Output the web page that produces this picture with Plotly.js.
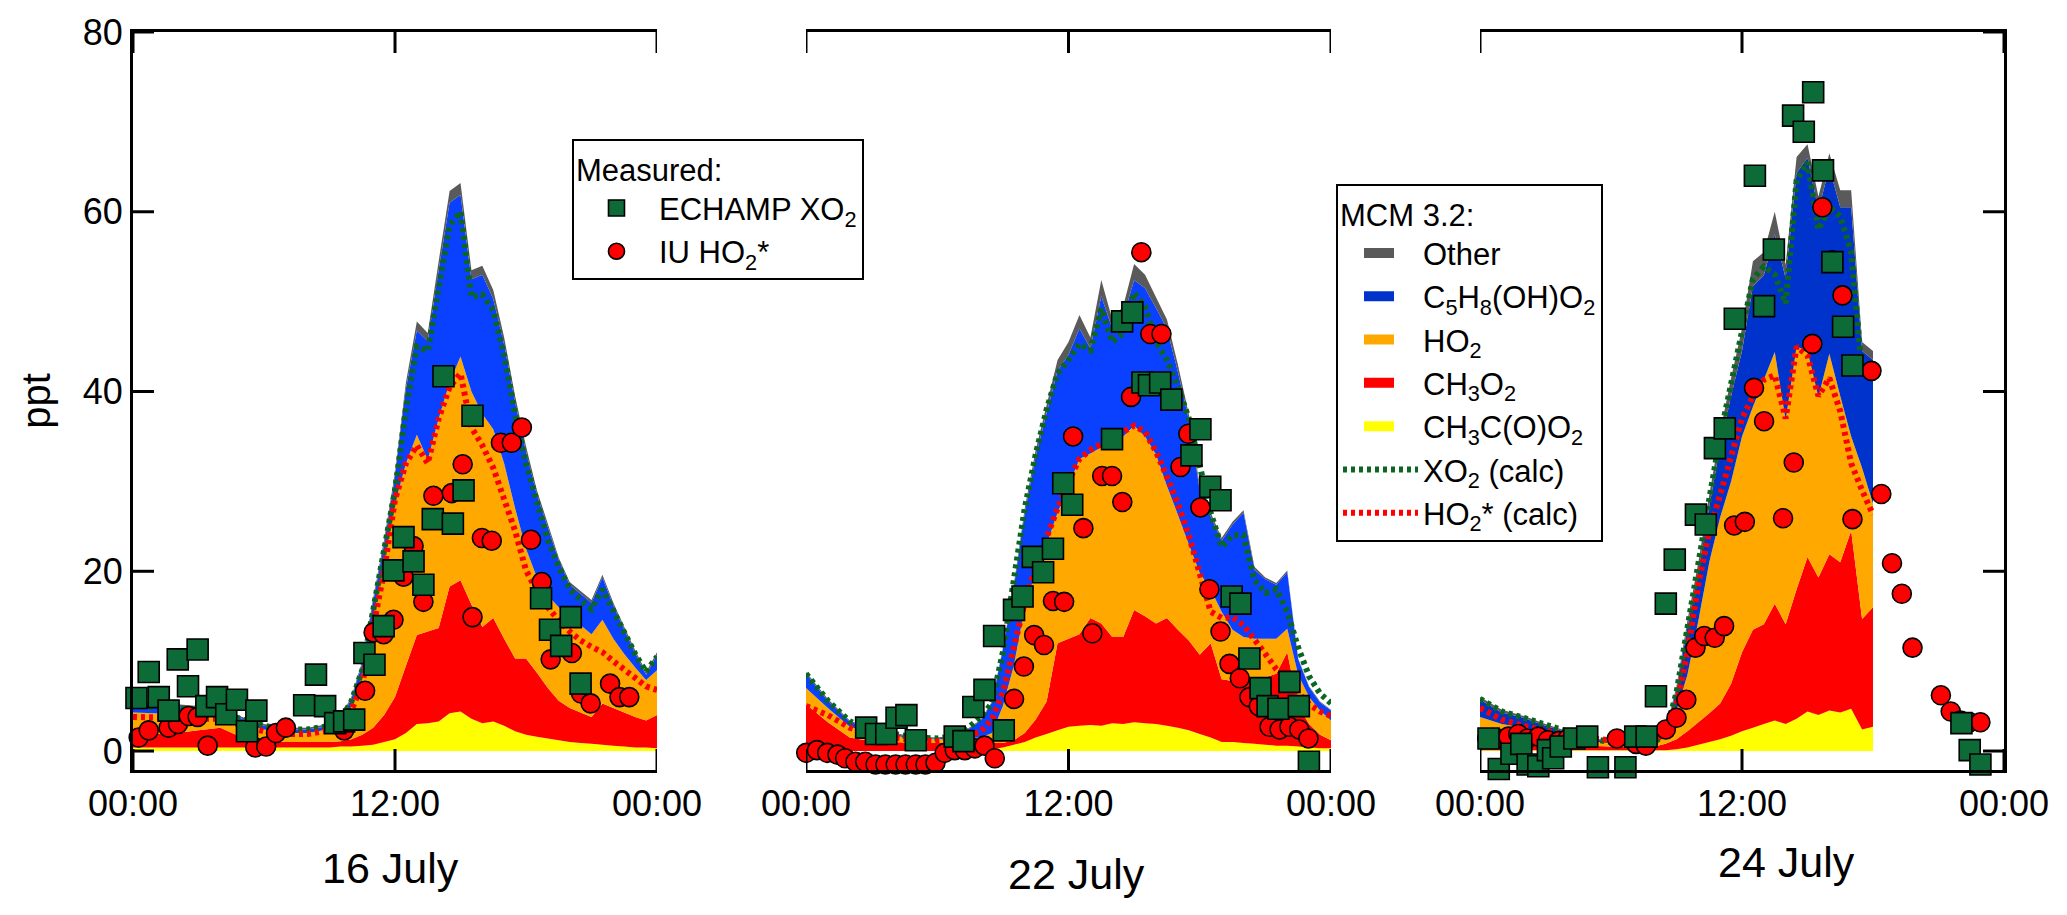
<!DOCTYPE html>
<html>
<head>
<meta charset="utf-8">
<script src="https://cdn.plot.ly/plotly-3.0.1.min.js"></script>
<style>
  html, body { margin: 0; padding: 0; background: #fff; }
  #chart { width: 2067px; height: 915px; }
</style>
</head>
<body>
<div id="chart"></div>
<script>
// MCM 3.2 model output, hours of day (half-hourly in daytime)
const modelHours = [0,1,2,3,4,5,6,7,8,8.5,9,9.5,10,10.5,11,11.5,12,12.5,13,13.5,14,14.5,15,15.5,16,16.5,17,17.5,18,18.5,19,19.5,20,20.5,21,21.5,22,22.5,23,23.5,24]
// on 24 July the model run stops at 18:00
const modelHours24 = [0,1,2,3,4,5,6,7,8,8.5,9,9.5,10,10.5,11,11.5,12,12.5,13,13.5,14,14.5,15,15.5,16,16.5,17,17.5,18]

// --- 16 July, ppt ---
const jul16_ch3co3 = [0.4,0.4,0.4,0.4,0.4,0.4,0.4,0.4,0.4,0.4, 0.4,0.5,0.5,0.6,0.7,1.0,1.3,2.0,3.0,3.1, 3.3,4.2,4.4,3.6,3.1,3.3,2.8,2.2,1.8,1.6, 1.4,1.2,1.0,0.9,0.8,0.7,0.6,0.5,0.4,0.4, 0.3]
const jul16_ch3o2 = [1.4,1.5,1.6,1.9,2.2,1.1,0.8,0.6,0.6,0.6, 0.6,0.6,0.8,1.2,1.9,3.0,4.7,7.5,9.9,10.2, 10.4,14.1,14.6,12.7,10.7,11.5,9.7,8.1,8.5,7.1, 5.6,4.4,3.8,3.4,3.0,4.6,4.2,3.8,3.4,3.0, 3.7]
const jul16_ho2 = [2.5,2.3,2.0,1.7,1.4,1.5,1.2,1.0,1.0,1.2, 1.5,2.1,3.7,6.7,12.4,17.0,21.5,22.5,22.3,19.1, 23.3,22.7,24.9,23.7,23.7,21.0,19.5,16.7,12.2,10.6, 10.3,10.4,10.2,9.7,9.2,9.3,7.7,6.5,5.5,4.5, 5.0]
const jul16_isopo2 = [0.9,0.8,0.9,0.8,0.6,0.6,0.4,0.4,0.4,0.4, 0.3,0.4,0.8,1.2,1.6,2.0,3.0,8.3,11.6,13.2, 16.5,20.0,18.0,12.5,15.5,14.5,13.2,11.8,10.8,9.2, 7.6,5.2,3.5,3.5,3.5,4.7,3.7,2.7,1.6,0.6, 1.7]
const jul16_other = [0.3,0.3,0.3,0.2,0.2,0.2,0.2,0.2,0.2,0.2, 0.2,0.2,0.2,0.3,0.4,0.5,0.5,0.7,1.0,0.9, 1.0,1.3,1.3,1.0,1.0,1.0,0.8,0.7,0.6,0.5, 0.4,0.3,0.3,0.3,0.3,0.3,0.3,0.3,0.3,0.3, 0.3]
const jul16_xo2calc = [5.0,4.9,4.8,4.6,4.4,3.5,2.8,2.4,2.4,2.6, 2.8,3.5,5.5,9.0,15.5,22.0,29.0,38.0,45.0,44.5, 52.0,58.5,60.0,50.5,50.8,49.0,44.0,37.5,32.0,27.5, 23.5,20.5,18.0,16.8,15.8,18.0,15.5,13.0,10.8,8.8, 10.5]
const jul16_ho2calc = [3.8,3.8,3.7,3.6,3.6,2.8,2.2,1.9,1.9,2.1, 2.3,3.0,4.5,7.5,13.5,20.0,28.0,32.0,34.0,32.0, 37.0,40.5,42.0,36.0,34.0,31.5,28.0,24.5,20.1,17.8, 16.0,14.5,13.3,12.3,11.6,11.0,10.0,9.0,8.0,7.2, 6.8]
const jul16_echampHours = [0.16,0.72,1.18,1.63,2.05,2.52,2.96,3.36,3.85,4.27,4.76,5.22,5.65,7.84,8.38,8.8,9.26,9.67,10.13,10.6,11.06,11.48,11.93,12.39,12.85,13.3,13.73,14.22,14.65,15.14,15.55,18.69,19.1,19.61,20.05,20.5]
const jul16_echampXO2 = [5.9,8.8,6.0,4.5,10.2,7.2,11.3,5.0,6.0,4.1,5.7,2.2,4.5,5.1,8.5,5.0,3.1,3.3,3.5,10.9,9.6,13.9,20.1,23.8,21.1,18.5,25.8,41.7,25.3,29.0,37.3,17.0,13.5,11.7,14.9,7.5]
const jul16_iuHours = [0.26,0.72,1.63,2.06,2.55,2.96,3.42,5.6,6.1,6.55,7.0,9.67,10.63,11.02,11.48,11.93,12.39,12.85,13.3,13.76,14.6,15.1,15.55,15.98,16.43,16.85,17.35,17.81,18.23,18.72,19.13,20.1,20.52,20.96,21.85,22.28,22.73]
const jul16_iuHO2 = [1.5,2.3,2.6,3.0,3.9,3.8,0.6,0.4,0.5,2.0,2.6,2.3,6.7,13.2,13.0,14.6,19.4,22.8,16.6,28.4,28.7,31.9,14.9,23.7,23.4,34.3,34.3,36.0,23.5,18.8,10.2,10.9,6.4,5.3,7.5,6.0,6.0]

// --- 22 July, ppt ---
const jul22_ch3co3 = [0,0,0,0,0,0,0,0,0.1,0.2, 0.4,0.7,1.0,1.5,1.9,2.3,2.7,2.8,2.9,2.8, 3.1,3.0,3.2,3.1,3.0,2.8,2.6,2.3,1.9,1.5, 1.0,1.0,0.9,0.8,0.7,0.6,0.6,0.5,0.4,0.3, 0.3]
const jul22_ch3o2 = [5.2,3.2,1.5,1.1,1.0,0.9,0.9,0.9,0.8,0.7, 0.5,0.5,1.0,2.0,3.6,9.7,9.8,10.2,11.9,11.4, 9.6,9.7,12.5,11.9,11.2,12.0,10.9,10.0,8.8,10.5, 7.0,6.8,6.9,7.1,7.5,8.0,10.4,4.5,2.6,1.5, 0.9]
const jul22_ho2 = [1.8,1.6,1.2,0.9,0.7,0.5,0.4,0.5,0.6,1.1, 4.1,8.3,14.0,16.5,17.5,14.5,17.0,19.5,18.3,19.6, 21.5,22.3,20.5,20.0,18.8,14.7,12.8,10.7,9.1,6.0, 7.5,5.7,4.9,4.6,4.3,3.9,2.6,3.5,3.0,2.7, 2.2]
const jul22_isopo2 = [1.6,0.8,0.6,0.3,0.2,0.1,0.1,0.3,1.9,3.4, 6.3,8.7,10.5,12.8,14.6,15.8,14.6,14.5,11.7,16.8, 12.8,13.3,16.2,16.5,16.3,17.5,15.9,13.9,9.2,8.1, 7.9,11.7,13.8,7.7,6.6,6.0,6.3,1.7,1.1,0.9, 1.1]
const jul22_other = [0.2,0.2,0.1,0.1,0.1,0.1,0.1,0.1,0.1,0.1, 0.2,0.3,0.5,0.7,0.9,1.2,1.4,1.5,1.2,1.8, 1.0,1.2,1.8,1.5,1.2,1.0,0.8,0.6,0.5,0.4, 0.3,0.3,0.3,0.3,0.2,0.2,0.2,0.1,0.1,0.1, 0.1]
const jul22_xo2calc = [8.6,5.6,3.3,2.3,1.9,1.5,1.4,1.7,3.8,5.3, 11.0,19.0,27.0,33.0,38.0,42.0,43.5,45.3,44.6,49.2, 45.5,46.5,51.0,49.5,45.5,43.5,40.5,37.0,32.0,26.5, 22.7,24.0,24.0,19.0,17.6,18.0,15.5,11.5,8.3,6.4, 5.3]
const jul22_ho2calc = [5.0,4.0,2.6,1.8,1.5,1.2,1.1,1.3,2.2,3.5, 6.5,11.5,16.5,20.5,24.0,27.0,30.0,32.5,33.5,34.2, 34.8,35.5,36.2,35.5,33.3,30.5,27.5,24.0,19.8,15.5, 14.8,14.9,14.0,12.5,10.8,9.1,7.8,6.3,5.2,4.4, 3.9]
const jul22_echampHours = [2.75,3.2,3.67,4.14,4.59,5.02,6.8,7.2,7.65,8.16,8.6,9.04,9.51,9.9,10.37,10.84,11.29,11.76,12.17,13.99,14.45,14.92,15.38,15.68,16.19,16.7,17.62,18.03,18.48,18.95,19.46,19.86,20.27,20.78,21.1,21.6,22.1,22.53,22.99]
const jul22_echampXO2 = [2.6,1.9,1.9,3.7,4.0,1.2,1.6,1.1,4.9,6.8,12.8,2.3,15.7,17.2,21.6,19.9,22.5,29.8,27.4,34.7,47.8,48.8,41.0,40.7,41.0,39.1,32.9,35.8,29.4,27.9,17.2,16.4,10.3,7.0,5.0,4.7,7.7,5.0,-1.2]
const jul22_iuHours = [0.01,0.5,0.97,1.44,1.79,2.26,2.71,3.18,3.63,4.1,4.55,5.02,5.46,5.92,6.34,6.8,7.26,7.72,8.16,8.63,9.51,9.96,10.43,10.88,11.29,11.8,12.21,12.68,13.09,13.54,13.99,14.46,14.86,15.33,15.74,16.25,17.12,17.48,18.03,18.44,18.95,19.36,19.83,20.27,20.7,21.19,21.65,22.1,22.55,22.97]
const jul22_iuHO2 = [-0.2,0.1,-0.2,-0.4,-0.8,-1.2,-1.2,-1.5,-1.5,-1.5,-1.5,-1.5,-1.5,-1.3,-0.2,0.1,0.1,0.3,0.6,-0.8,5.8,9.4,12.9,11.8,16.7,16.6,35.0,24.8,13.1,30.6,30.6,27.7,39.4,55.5,46.4,46.4,31.6,35.3,27.1,18.0,13.3,9.7,8.1,6.0,5.0,2.7,2.4,2.7,2.4,1.4]

// --- 24 July, ppt ---
const jul24_ch3co3 = [0.1,0.1,0.1,0.1,0.1,0.1,0.1,0.1,0.1,0.1, 0.2,0.4,0.7,1.0,1.3,1.7,2.2,2.6,3.0,3.4, 3.0,3.6,4.4,4.0,4.5,4.3,4.7,2.4,2.7]
const jul24_ch3o2 = [1.7,1.4,1.1,0.9,0.7,0.5,0.4,0.3,0.4,0.7, 1.1,1.8,2.5,3.2,4.0,5.8,8.8,10.9,11.1,13.0, 11.1,14.4,17.2,15.3,17.4,16.7,19.8,12.3,13.3]
const jul24_ho2 = [2.0,1.5,1.4,1.1,0.8,0.5,0.4,0.2,0.4,0.9, 3.2,6.3,11.3,16.8,20.7,22.5,24.0,24.8,27.2,28.0, 22.7,27.0,22.9,20.1,22.3,18.5,10.5,16.8,11.5]
const jul24_isopo2 = [1.9,1.3,1.1,0.7,0.5,0.3,0.1,0.1,0.2,0.4, 2.3,5.3,5.5,6.2,7.9,9.5,9.5,13.4,11.6,13.1, 15.8,19.3,21.5,20.8,20.7,21.0,25.5,13.0,16.0]
const jul24_other = [0.3,0.3,0.2,0.2,0.1,0.1,0.1,0.1,0.1,0.2, 0.4,0.7,1.0,1.3,1.6,2.0,2.5,2.8,2.6,2.5, 1.5,1.8,1.5,1.5,1.6,1.9,1.9,1.0,1.0]
const jul24_xo2calc = [5.8,4.4,3.7,2.9,2.2,1.4,1.0,0.7,1.0,2.0, 6.5,14.0,21.0,28.0,35.0,41.0,47.0,52.5,53.9,53.0, 49.8,63.5,65.5,58.0,60.5,59.5,55.5,42.0,null]
const jul24_ho2calc = [4.8,3.5,2.8,2.2,1.7,1.4,1.2,1.0,1.2,2.0, 5.0,11.0,18.5,24.5,28.5,33.0,37.0,39.5,41.3,41.8, 37.0,45.0,44.0,39.5,41.5,37.8,32.0,29.0,26.3]
const jul24_echampHours = [0.39,0.86,1.44,1.89,2.18,2.67,3.11,3.35,3.7,4.32,4.91,5.4,6.66,7.11,7.63,8.06,8.51,8.92,9.89,10.34,10.76,11.21,11.67,12.59,13.01,13.46,14.34,14.83,15.26,15.71,16.14,16.63,17.06,22.05,22.43,22.92]
const jul24_echampXO2 = [1.4,-2.0,-0.3,0.8,-1.5,-1.7,0.1,-0.8,0.5,1.4,1.6,-1.8,-1.8,1.6,1.6,6.1,16.4,21.3,26.3,25.2,33.7,35.9,48.1,64.0,49.5,55.8,70.7,68.9,73.3,64.6,54.4,47.2,42.9,3.1,0.1,-1.5]
const jul24_iuHours = [0.33,0.82,1.3,1.75,2.18,2.67,3.11,3.6,4.03,6.27,7.15,7.6,8.51,9.0,9.45,9.87,10.27,10.75,11.18,11.64,12.13,12.55,13.01,13.88,14.37,15.22,15.68,16.14,16.6,17.06,17.93,18.38,18.87,19.32,19.81,21.11,21.56,22.01,22.43,22.92]
const jul24_iuHO2 = [1.4,1.4,1.6,1.9,1.4,1.6,1.2,1.1,1.4,1.4,0.8,0.6,2.4,3.7,5.7,11.5,12.8,12.6,13.9,25.1,25.5,40.4,36.7,25.9,32.1,45.3,60.5,54.6,50.7,25.8,42.3,28.6,20.9,17.5,11.5,6.2,4.4,3.4,3.2,3.2]

const dayLabels = ['16 July', '22 July', '24 July']
const tickHours = [0, 12, 24]
const tickLabels = ['00:00', '12:00', '00:00']
const pptTicks = [0, 20, 40, 60, 80]

const FONT = 'Liberation Sans, Arial, Helvetica, sans-serif'

const days = [
  { hours: modelHours, ch3co3: jul16_ch3co3, ch3o2: jul16_ch3o2, ho2: jul16_ho2, isopo2: jul16_isopo2, other: jul16_other,
    xo2calc: jul16_xo2calc, ho2calc: jul16_ho2calc,
    echampHours: jul16_echampHours, echamp: jul16_echampXO2, iuHours: jul16_iuHours, iu: jul16_iuHO2, blue: '#0a40ff' },
  { hours: modelHours, ch3co3: jul22_ch3co3, ch3o2: jul22_ch3o2, ho2: jul22_ho2, isopo2: jul22_isopo2, other: jul22_other,
    xo2calc: jul22_xo2calc, ho2calc: jul22_ho2calc,
    echampHours: jul22_echampHours, echamp: jul22_echampXO2, iuHours: jul22_iuHours, iu: jul22_iuHO2, blue: '#0a40ff' },
  { hours: modelHours24, ch3co3: jul24_ch3co3, ch3o2: jul24_ch3o2, ho2: jul24_ho2, isopo2: jul24_isopo2, other: jul24_other,
    xo2calc: jul24_xo2calc, ho2calc: jul24_ho2calc,
    echampHours: jul24_echampHours, echamp: jul24_echampXO2, iuHours: jul24_iuHours, iu: jul24_iuHO2, blue: '#0033cc' }
]

// quick sanity check on hand-typed arrays
days.forEach((d, i) => {
  ['ch3co3', 'ch3o2', 'ho2', 'isopo2', 'other', 'xo2calc', 'ho2calc'].forEach(k => {
    if (d[k].length !== d.hours.length) throw new Error('day ' + i + ' ' + k + ' length ' + d[k].length)
  })
  if (d.echamp.length !== d.echampHours.length) throw new Error('day ' + i + ' echamp length')
  if (d.iu.length !== d.iuHours.length) throw new Error('day ' + i + ' iu length')
})

// stack order bottom -> top
const layers = [
  { key: 'ch3co3', name: 'CH<sub>3</sub>C(O)O<sub>2</sub>', color: '#ffff00', rank: 5 },
  { key: 'ch3o2', name: 'CH<sub>3</sub>O<sub>2</sub>', color: '#ff0000', rank: 4 },
  { key: 'ho2', name: 'HO<sub>2</sub>', color: '#ffa800', rank: 3 },
  { key: 'isopo2', name: 'C<sub>5</sub>H<sub>8</sub>(OH)O<sub>2</sub>', color: null, rank: 2 },
  { key: 'other', name: 'Other', color: '#5a5a5a', rank: 1 }
]

const dotted = { width: 6, dash: '4px,4px' }

const traces = []
days.forEach((d, i) => {
  const xa = i === 0 ? 'x' : 'x' + (i + 1)
  const ya = i === 0 ? 'y' : 'y' + (i + 1)
  const inModelLegend = i === 2
  const inMeasLegend = i === 0

  layers.forEach(l => {
    traces.push({
      type: 'scatter', x: d.hours, y: d[l.key], xaxis: xa, yaxis: ya,
      mode: 'none', stackgroup: 'mcm' + i, fillcolor: l.color || d.blue,
      name: l.name, showlegend: false, hoverinfo: 'skip'
    })
  })

  traces.push({
    type: 'scatter', x: d.hours, y: d.xo2calc, xaxis: xa, yaxis: ya, mode: 'lines',
    line: { color: '#0b6623', width: dotted.width, dash: dotted.dash },
    name: 'XO<sub>2</sub> (calc)', legend: 'legend2', legendrank: 6, showlegend: inModelLegend,
    hoverinfo: 'skip'
  })
  traces.push({
    type: 'scatter', x: d.hours, y: d.ho2calc, xaxis: xa, yaxis: ya, mode: 'lines',
    line: { color: '#ff0000', width: dotted.width, dash: dotted.dash },
    name: 'HO<sub>2</sub>* (calc)', legend: 'legend2', legendrank: 7, showlegend: inModelLegend,
    hoverinfo: 'skip'
  })

  traces.push({
    type: 'scatter', x: d.iuHours, y: d.iu, xaxis: xa, yaxis: ya, mode: 'markers', cliponaxis: false,
    marker: { symbol: 'circle', size: 19, color: '#ff0000', line: { color: '#000', width: 1.6 } },
    name: 'IU HO<sub>2</sub>*', legend: 'legend', legendrank: 2, showlegend: inMeasLegend,
    hoverinfo: 'skip'
  })
  traces.push({
    type: 'scatter', x: d.echampHours, y: d.echamp, xaxis: xa, yaxis: ya, mode: 'markers', cliponaxis: false,
    marker: { symbol: 'square', size: 21, color: '#0c6b37', line: { color: '#000', width: 1.6 } },
    name: 'ECHAMP XO<sub>2</sub>', legend: 'legend', legendrank: 1, showlegend: inMeasLegend,
    hoverinfo: 'skip'
  })
})

// legend swatches for the stacked model fills (no data, legend only)
layers.forEach(l => {
  traces.push({
    type: 'scatter', x: [null], y: [null], xaxis: 'x3', yaxis: 'y3', mode: 'lines',
    line: { color: l.color || days[2].blue, width: 18, dash: '0px,21px,30px,400px' },
    name: l.name, legend: 'legend2', legendrank: l.rank, showlegend: true, hoverinfo: 'skip'
  })
})

const tickFont = { family: FONT, size: 36, color: '#000' }
const yRange = [-2.11, 80]
const tickLen = 21

// inward tick marks, drawn as short lines anchored on the axis values
const tickStyle = { type: 'line', layer: 'above', line: { color: '#000', width: 3 } }
const shapes = []
;['x', 'x2', 'x3'].forEach((xa, i) => {
  const ya = i === 0 ? 'y' : 'y' + (i + 1)
  tickHours.forEach(h => {
    shapes.push(Object.assign({}, tickStyle, { xref: xa, yref: ya, x0: h, x1: h, ysizemode: 'pixel', yanchor: yRange[0], y0: 0, y1: tickLen }))
    shapes.push(Object.assign({}, tickStyle, { xref: xa, yref: ya, x0: h, x1: h, ysizemode: 'pixel', yanchor: yRange[1], y0: 0, y1: -tickLen }))
  })
})
pptTicks.forEach(v => {
  shapes.push(Object.assign({}, tickStyle, { xref: 'x', yref: 'y', y0: v, y1: v, xsizemode: 'pixel', xanchor: 0, x0: 0, x1: tickLen }))
  shapes.push(Object.assign({}, tickStyle, { xref: 'x3', yref: 'y3', y0: v, y1: v, xsizemode: 'pixel', xanchor: 24, x0: 0, x1: -tickLen }))
})

function timeAxis(domain, anchor) {
  return {
    domain: domain, anchor: anchor, range: [0, 24],
    tickmode: 'array', tickvals: tickHours, ticktext: tickLabels, ticks: '',
    showline: true, linewidth: 3, linecolor: '#000', mirror: true,
    showgrid: false, zeroline: false, tickfont: tickFont, ticklabelstandoff: 0
  }
}

const legendBase = {
  xanchor: 'left', yanchor: 'top', bgcolor: '#fff', bordercolor: '#000', borderwidth: 2,
  font: { family: FONT, size: 31, color: '#000' }, itemwidth: 75, traceorder: 'normal',
  tracegroupgap: 0
}

const layout = {
  width: 2067, height: 915,
  margin: { l: 133, r: 63, t: 32, b: 145 },
  paper_bgcolor: '#fff', plot_bgcolor: 'rgba(0,0,0,0)',
  font: { family: FONT, color: '#000' },
  showlegend: true,
  hovermode: false,
  xaxis: timeAxis([0, 0.28007], 'y'),
  xaxis2: timeAxis([0.35970, 0.64030], 'y2'),
  xaxis3: timeAxis([0.71994, 1], 'y3'),
  yaxis: {
    anchor: 'x', range: yRange, tickmode: 'array', tickvals: pptTicks, ticks: '',
    showline: true, linewidth: 3, linecolor: '#000',
    showgrid: false, zeroline: false, tickfont: tickFont, ticklabelstandoff: 0,
    title: { text: 'ppt', font: { family: FONT, size: 40, color: '#000' }, standoff: 20 }
  },
  yaxis2: { anchor: 'x2', range: yRange, visible: false },
  yaxis3: {
    anchor: 'x3', side: 'right', range: yRange, ticks: '',
    showline: true, linewidth: 3, linecolor: '#000', showticklabels: false,
    showgrid: false, zeroline: false
  },
  legend: Object.assign({}, legendBase, {
    x: 0.23463, y: 0.85501,
    title: { text: 'Measured:', font: { family: FONT, size: 31, color: '#000' } }
  }),
  legend2: Object.assign({}, legendBase, {
    x: 0.64297, y: 0.79404,
    title: { text: 'MCM 3.2:', font: { family: FONT, size: 31, color: '#000' } }
  }),
  shapes: shapes,
  annotations: [
    { text: dayLabels[0], xref: 'paper', yref: 'paper', x: 0.13757, y: -0.13279, showarrow: false,
      xanchor: 'center', yanchor: 'middle', font: { family: FONT, size: 43, color: '#000' } },
    { text: dayLabels[1], xref: 'paper', yref: 'paper', x: 0.50401, y: -0.14092, showarrow: false,
      xanchor: 'center', yanchor: 'middle', font: { family: FONT, size: 43, color: '#000' } },
    { text: dayLabels[2], xref: 'paper', yref: 'paper', x: 0.88391, y: -0.12466, showarrow: false,
      xanchor: 'center', yanchor: 'middle', font: { family: FONT, size: 43, color: '#000' } }
  ]
}

Plotly.newPlot('chart', traces, layout, { displayModeBar: false, staticPlot: true })
</script>
</body>
</html>
